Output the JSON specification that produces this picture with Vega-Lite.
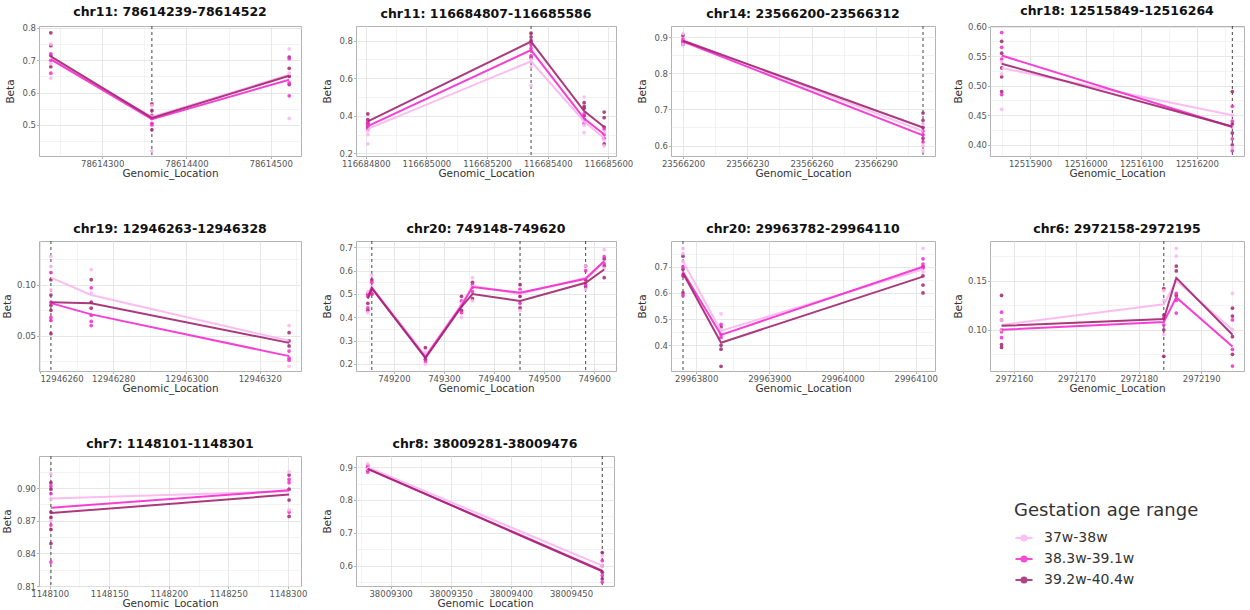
{
  "$schema": "https://vega.github.io/schema/vega-lite/v6.json",
  "padding": {"left": 2, "top": 4, "right": 0, "bottom": 0},
  "background": "white",
  "datasets": {
    "dmr": [
      {"panel": 1, "pos": 78614359},
      {"panel": 2, "pos": 116685345},
      {"panel": 3, "pos": 23566312},
      {"panel": 4, "pos": 12516264},
      {"panel": 5, "pos": 12946263},
      {"panel": 6, "pos": 749156},
      {"panel": 6, "pos": 749452},
      {"panel": 6, "pos": 749583},
      {"panel": 7, "pos": 29963782},
      {"panel": 8, "pos": 2972184},
      {"panel": 9, "pos": 1148101},
      {"panel": 10, "pos": 38009476}
    ],
    "means": [
      {"panel": 1, "pos": 78614239, "group": "37w-38w", "beta": 0.705},
      {"panel": 1, "pos": 78614359, "group": "37w-38w", "beta": 0.525},
      {"panel": 1, "pos": 78614522, "group": "37w-38w", "beta": 0.655},
      {"panel": 1, "pos": 78614239, "group": "38.3w-39.1w", "beta": 0.703},
      {"panel": 1, "pos": 78614359, "group": "38.3w-39.1w", "beta": 0.518},
      {"panel": 1, "pos": 78614522, "group": "38.3w-39.1w", "beta": 0.640},
      {"panel": 1, "pos": 78614239, "group": "39.2w-40.4w", "beta": 0.712},
      {"panel": 1, "pos": 78614359, "group": "39.2w-40.4w", "beta": 0.522},
      {"panel": 1, "pos": 78614522, "group": "39.2w-40.4w", "beta": 0.652},

      {"panel": 2, "pos": 116684807, "group": "37w-38w", "beta": 0.33},
      {"panel": 2, "pos": 116685345, "group": "37w-38w", "beta": 0.69},
      {"panel": 2, "pos": 116685520, "group": "37w-38w", "beta": 0.37},
      {"panel": 2, "pos": 116685586, "group": "37w-38w", "beta": 0.28},
      {"panel": 2, "pos": 116684807, "group": "38.3w-39.1w", "beta": 0.345},
      {"panel": 2, "pos": 116685345, "group": "38.3w-39.1w", "beta": 0.75},
      {"panel": 2, "pos": 116685520, "group": "38.3w-39.1w", "beta": 0.385},
      {"panel": 2, "pos": 116685586, "group": "38.3w-39.1w", "beta": 0.30},
      {"panel": 2, "pos": 116684807, "group": "39.2w-40.4w", "beta": 0.37},
      {"panel": 2, "pos": 116685345, "group": "39.2w-40.4w", "beta": 0.795},
      {"panel": 2, "pos": 116685520, "group": "39.2w-40.4w", "beta": 0.425},
      {"panel": 2, "pos": 116685586, "group": "39.2w-40.4w", "beta": 0.34},

      {"panel": 3, "pos": 23566200, "group": "37w-38w", "beta": 0.892},
      {"panel": 3, "pos": 23566312, "group": "37w-38w", "beta": 0.64},
      {"panel": 3, "pos": 23566200, "group": "38.3w-39.1w", "beta": 0.888},
      {"panel": 3, "pos": 23566312, "group": "38.3w-39.1w", "beta": 0.628},
      {"panel": 3, "pos": 23566200, "group": "39.2w-40.4w", "beta": 0.89},
      {"panel": 3, "pos": 23566312, "group": "39.2w-40.4w", "beta": 0.65},

      {"panel": 4, "pos": 12515849, "group": "37w-38w", "beta": 0.53},
      {"panel": 4, "pos": 12516264, "group": "37w-38w", "beta": 0.45},
      {"panel": 4, "pos": 12515849, "group": "38.3w-39.1w", "beta": 0.551},
      {"panel": 4, "pos": 12516264, "group": "38.3w-39.1w", "beta": 0.43},
      {"panel": 4, "pos": 12515849, "group": "39.2w-40.4w", "beta": 0.537},
      {"panel": 4, "pos": 12516264, "group": "39.2w-40.4w", "beta": 0.431},

      {"panel": 5, "pos": 12946263, "group": "37w-38w", "beta": 0.107},
      {"panel": 5, "pos": 12946274, "group": "37w-38w", "beta": 0.090},
      {"panel": 5, "pos": 12946328, "group": "37w-38w", "beta": 0.045},
      {"panel": 5, "pos": 12946263, "group": "38.3w-39.1w", "beta": 0.082},
      {"panel": 5, "pos": 12946274, "group": "38.3w-39.1w", "beta": 0.071},
      {"panel": 5, "pos": 12946328, "group": "38.3w-39.1w", "beta": 0.030},
      {"panel": 5, "pos": 12946263, "group": "39.2w-40.4w", "beta": 0.083},
      {"panel": 5, "pos": 12946274, "group": "39.2w-40.4w", "beta": 0.082},
      {"panel": 5, "pos": 12946328, "group": "39.2w-40.4w", "beta": 0.043},

      {"panel": 6, "pos": 749148, "group": "37w-38w", "beta": 0.50},
      {"panel": 6, "pos": 749156, "group": "37w-38w", "beta": 0.53},
      {"panel": 6, "pos": 749263, "group": "37w-38w", "beta": 0.235},
      {"panel": 6, "pos": 749335, "group": "37w-38w", "beta": 0.455},
      {"panel": 6, "pos": 749357, "group": "37w-38w", "beta": 0.535},
      {"panel": 6, "pos": 749452, "group": "37w-38w", "beta": 0.50},
      {"panel": 6, "pos": 749583, "group": "37w-38w", "beta": 0.57},
      {"panel": 6, "pos": 749620, "group": "37w-38w", "beta": 0.64},
      {"panel": 6, "pos": 749148, "group": "38.3w-39.1w", "beta": 0.49},
      {"panel": 6, "pos": 749156, "group": "38.3w-39.1w", "beta": 0.525},
      {"panel": 6, "pos": 749263, "group": "38.3w-39.1w", "beta": 0.23},
      {"panel": 6, "pos": 749335, "group": "38.3w-39.1w", "beta": 0.45},
      {"panel": 6, "pos": 749357, "group": "38.3w-39.1w", "beta": 0.53},
      {"panel": 6, "pos": 749452, "group": "38.3w-39.1w", "beta": 0.505},
      {"panel": 6, "pos": 749583, "group": "38.3w-39.1w", "beta": 0.565},
      {"panel": 6, "pos": 749620, "group": "38.3w-39.1w", "beta": 0.64},
      {"panel": 6, "pos": 749148, "group": "39.2w-40.4w", "beta": 0.48},
      {"panel": 6, "pos": 749156, "group": "39.2w-40.4w", "beta": 0.525},
      {"panel": 6, "pos": 749263, "group": "39.2w-40.4w", "beta": 0.225},
      {"panel": 6, "pos": 749335, "group": "39.2w-40.4w", "beta": 0.445},
      {"panel": 6, "pos": 749357, "group": "39.2w-40.4w", "beta": 0.50},
      {"panel": 6, "pos": 749452, "group": "39.2w-40.4w", "beta": 0.47},
      {"panel": 6, "pos": 749583, "group": "39.2w-40.4w", "beta": 0.548},
      {"panel": 6, "pos": 749620, "group": "39.2w-40.4w", "beta": 0.605},

      {"panel": 7, "pos": 29963782, "group": "37w-38w", "beta": 0.72},
      {"panel": 7, "pos": 29963834, "group": "37w-38w", "beta": 0.455},
      {"panel": 7, "pos": 29964110, "group": "37w-38w", "beta": 0.69},
      {"panel": 7, "pos": 29963782, "group": "38.3w-39.1w", "beta": 0.68},
      {"panel": 7, "pos": 29963834, "group": "38.3w-39.1w", "beta": 0.44},
      {"panel": 7, "pos": 29964110, "group": "38.3w-39.1w", "beta": 0.70},
      {"panel": 7, "pos": 29963782, "group": "39.2w-40.4w", "beta": 0.675},
      {"panel": 7, "pos": 29963834, "group": "39.2w-40.4w", "beta": 0.41},
      {"panel": 7, "pos": 29964110, "group": "39.2w-40.4w", "beta": 0.662},

      {"panel": 8, "pos": 2972158, "group": "37w-38w", "beta": 0.105},
      {"panel": 8, "pos": 2972184, "group": "37w-38w", "beta": 0.126},
      {"panel": 8, "pos": 2972186, "group": "37w-38w", "beta": 0.150},
      {"panel": 8, "pos": 2972195, "group": "37w-38w", "beta": 0.100},
      {"panel": 8, "pos": 2972158, "group": "38.3w-39.1w", "beta": 0.100},
      {"panel": 8, "pos": 2972184, "group": "38.3w-39.1w", "beta": 0.108},
      {"panel": 8, "pos": 2972186, "group": "38.3w-39.1w", "beta": 0.133},
      {"panel": 8, "pos": 2972195, "group": "38.3w-39.1w", "beta": 0.083},
      {"panel": 8, "pos": 2972158, "group": "39.2w-40.4w", "beta": 0.104},
      {"panel": 8, "pos": 2972184, "group": "39.2w-40.4w", "beta": 0.111},
      {"panel": 8, "pos": 2972186, "group": "39.2w-40.4w", "beta": 0.153},
      {"panel": 8, "pos": 2972195, "group": "39.2w-40.4w", "beta": 0.095},

      {"panel": 9, "pos": 1148101, "group": "37w-38w", "beta": 0.8905},
      {"panel": 9, "pos": 1148301, "group": "37w-38w", "beta": 0.897},
      {"panel": 9, "pos": 1148101, "group": "38.3w-39.1w", "beta": 0.882},
      {"panel": 9, "pos": 1148301, "group": "38.3w-39.1w", "beta": 0.898},
      {"panel": 9, "pos": 1148101, "group": "39.2w-40.4w", "beta": 0.877},
      {"panel": 9, "pos": 1148301, "group": "39.2w-40.4w", "beta": 0.894},

      {"panel": 10, "pos": 38009281, "group": "37w-38w", "beta": 0.90},
      {"panel": 10, "pos": 38009476, "group": "37w-38w", "beta": 0.60},
      {"panel": 10, "pos": 38009281, "group": "38.3w-39.1w", "beta": 0.895},
      {"panel": 10, "pos": 38009476, "group": "38.3w-39.1w", "beta": 0.585},
      {"panel": 10, "pos": 38009281, "group": "39.2w-40.4w", "beta": 0.895},
      {"panel": 10, "pos": 38009476, "group": "39.2w-40.4w", "beta": 0.583}
    ],
    "samples": [
      {"panel": 1, "pos": 78614239, "group": "39.2w-40.4w", "beta": 0.785},
      {"panel": 1, "pos": 78614239, "group": "39.2w-40.4w", "beta": 0.745},
      {"panel": 1, "pos": 78614239, "group": "39.2w-40.4w", "beta": 0.715},
      {"panel": 1, "pos": 78614239, "group": "39.2w-40.4w", "beta": 0.68},
      {"panel": 1, "pos": 78614239, "group": "38.3w-39.1w", "beta": 0.70},
      {"panel": 1, "pos": 78614239, "group": "38.3w-39.1w", "beta": 0.66},
      {"panel": 1, "pos": 78614239, "group": "38.3w-39.1w", "beta": 0.72},
      {"panel": 1, "pos": 78614239, "group": "37w-38w", "beta": 0.645},
      {"panel": 1, "pos": 78614239, "group": "37w-38w", "beta": 0.69},
      {"panel": 1, "pos": 78614239, "group": "37w-38w", "beta": 0.75},
      {"panel": 1, "pos": 78614359, "group": "39.2w-40.4w", "beta": 0.565},
      {"panel": 1, "pos": 78614359, "group": "39.2w-40.4w", "beta": 0.545},
      {"panel": 1, "pos": 78614359, "group": "39.2w-40.4w", "beta": 0.52},
      {"panel": 1, "pos": 78614359, "group": "39.2w-40.4w", "beta": 0.485},
      {"panel": 1, "pos": 78614359, "group": "38.3w-39.1w", "beta": 0.505},
      {"panel": 1, "pos": 78614359, "group": "38.3w-39.1w", "beta": 0.53},
      {"panel": 1, "pos": 78614359, "group": "38.3w-39.1w", "beta": 0.50},
      {"panel": 1, "pos": 78614359, "group": "37w-38w", "beta": 0.42},
      {"panel": 1, "pos": 78614359, "group": "37w-38w", "beta": 0.56},
      {"panel": 1, "pos": 78614359, "group": "37w-38w", "beta": 0.52},
      {"panel": 1, "pos": 78614522, "group": "39.2w-40.4w", "beta": 0.675},
      {"panel": 1, "pos": 78614522, "group": "39.2w-40.4w", "beta": 0.65},
      {"panel": 1, "pos": 78614522, "group": "39.2w-40.4w", "beta": 0.625},
      {"panel": 1, "pos": 78614522, "group": "39.2w-40.4w", "beta": 0.71},
      {"panel": 1, "pos": 78614522, "group": "38.3w-39.1w", "beta": 0.59},
      {"panel": 1, "pos": 78614522, "group": "38.3w-39.1w", "beta": 0.705},
      {"panel": 1, "pos": 78614522, "group": "38.3w-39.1w", "beta": 0.63},
      {"panel": 1, "pos": 78614522, "group": "37w-38w", "beta": 0.52},
      {"panel": 1, "pos": 78614522, "group": "37w-38w", "beta": 0.735},
      {"panel": 1, "pos": 78614522, "group": "37w-38w", "beta": 0.66},

      {"panel": 2, "pos": 116684807, "group": "39.2w-40.4w", "beta": 0.41},
      {"panel": 2, "pos": 116684807, "group": "39.2w-40.4w", "beta": 0.38},
      {"panel": 2, "pos": 116684807, "group": "39.2w-40.4w", "beta": 0.36},
      {"panel": 2, "pos": 116684807, "group": "39.2w-40.4w", "beta": 0.34},
      {"panel": 2, "pos": 116684807, "group": "38.3w-39.1w", "beta": 0.33},
      {"panel": 2, "pos": 116684807, "group": "38.3w-39.1w", "beta": 0.35},
      {"panel": 2, "pos": 116684807, "group": "38.3w-39.1w", "beta": 0.37},
      {"panel": 2, "pos": 116684807, "group": "37w-38w", "beta": 0.25},
      {"panel": 2, "pos": 116684807, "group": "37w-38w", "beta": 0.30},
      {"panel": 2, "pos": 116684807, "group": "37w-38w", "beta": 0.32},
      {"panel": 2, "pos": 116685345, "group": "39.2w-40.4w", "beta": 0.84},
      {"panel": 2, "pos": 116685345, "group": "39.2w-40.4w", "beta": 0.82},
      {"panel": 2, "pos": 116685345, "group": "39.2w-40.4w", "beta": 0.80},
      {"panel": 2, "pos": 116685345, "group": "39.2w-40.4w", "beta": 0.71},
      {"panel": 2, "pos": 116685345, "group": "38.3w-39.1w", "beta": 0.78},
      {"panel": 2, "pos": 116685345, "group": "38.3w-39.1w", "beta": 0.72},
      {"panel": 2, "pos": 116685345, "group": "38.3w-39.1w", "beta": 0.76},
      {"panel": 2, "pos": 116685345, "group": "37w-38w", "beta": 0.56},
      {"panel": 2, "pos": 116685345, "group": "37w-38w", "beta": 0.66},
      {"panel": 2, "pos": 116685345, "group": "37w-38w", "beta": 0.70},
      {"panel": 2, "pos": 116685520, "group": "39.2w-40.4w", "beta": 0.47},
      {"panel": 2, "pos": 116685520, "group": "39.2w-40.4w", "beta": 0.45},
      {"panel": 2, "pos": 116685520, "group": "39.2w-40.4w", "beta": 0.44},
      {"panel": 2, "pos": 116685520, "group": "39.2w-40.4w", "beta": 0.40},
      {"panel": 2, "pos": 116685520, "group": "38.3w-39.1w", "beta": 0.36},
      {"panel": 2, "pos": 116685520, "group": "38.3w-39.1w", "beta": 0.38},
      {"panel": 2, "pos": 116685520, "group": "38.3w-39.1w", "beta": 0.41},
      {"panel": 2, "pos": 116685520, "group": "37w-38w", "beta": 0.31},
      {"panel": 2, "pos": 116685520, "group": "37w-38w", "beta": 0.35},
      {"panel": 2, "pos": 116685520, "group": "37w-38w", "beta": 0.50},
      {"panel": 2, "pos": 116685586, "group": "39.2w-40.4w", "beta": 0.42},
      {"panel": 2, "pos": 116685586, "group": "39.2w-40.4w", "beta": 0.39},
      {"panel": 2, "pos": 116685586, "group": "39.2w-40.4w", "beta": 0.34},
      {"panel": 2, "pos": 116685586, "group": "39.2w-40.4w", "beta": 0.25},
      {"panel": 2, "pos": 116685586, "group": "38.3w-39.1w", "beta": 0.30},
      {"panel": 2, "pos": 116685586, "group": "38.3w-39.1w", "beta": 0.28},
      {"panel": 2, "pos": 116685586, "group": "38.3w-39.1w", "beta": 0.33},
      {"panel": 2, "pos": 116685586, "group": "37w-38w", "beta": 0.24},
      {"panel": 2, "pos": 116685586, "group": "37w-38w", "beta": 0.27},
      {"panel": 2, "pos": 116685586, "group": "37w-38w", "beta": 0.31},

      {"panel": 3, "pos": 23566200, "group": "39.2w-40.4w", "beta": 0.905},
      {"panel": 3, "pos": 23566200, "group": "39.2w-40.4w", "beta": 0.89},
      {"panel": 3, "pos": 23566200, "group": "39.2w-40.4w", "beta": 0.88},
      {"panel": 3, "pos": 23566200, "group": "38.3w-39.1w", "beta": 0.895},
      {"panel": 3, "pos": 23566200, "group": "38.3w-39.1w", "beta": 0.885},
      {"panel": 3, "pos": 23566200, "group": "37w-38w", "beta": 0.91},
      {"panel": 3, "pos": 23566200, "group": "37w-38w", "beta": 0.88},
      {"panel": 3, "pos": 23566312, "group": "39.2w-40.4w", "beta": 0.69},
      {"panel": 3, "pos": 23566312, "group": "39.2w-40.4w", "beta": 0.67},
      {"panel": 3, "pos": 23566312, "group": "39.2w-40.4w", "beta": 0.65},
      {"panel": 3, "pos": 23566312, "group": "39.2w-40.4w", "beta": 0.62},
      {"panel": 3, "pos": 23566312, "group": "38.3w-39.1w", "beta": 0.64},
      {"panel": 3, "pos": 23566312, "group": "38.3w-39.1w", "beta": 0.63},
      {"panel": 3, "pos": 23566312, "group": "38.3w-39.1w", "beta": 0.61},
      {"panel": 3, "pos": 23566312, "group": "37w-38w", "beta": 0.585},
      {"panel": 3, "pos": 23566312, "group": "37w-38w", "beta": 0.60},
      {"panel": 3, "pos": 23566312, "group": "37w-38w", "beta": 0.66},

      {"panel": 4, "pos": 12515849, "group": "39.2w-40.4w", "beta": 0.575},
      {"panel": 4, "pos": 12515849, "group": "39.2w-40.4w", "beta": 0.555},
      {"panel": 4, "pos": 12515849, "group": "39.2w-40.4w", "beta": 0.53},
      {"panel": 4, "pos": 12515849, "group": "39.2w-40.4w", "beta": 0.515},
      {"panel": 4, "pos": 12515849, "group": "39.2w-40.4w", "beta": 0.49},
      {"panel": 4, "pos": 12515849, "group": "38.3w-39.1w", "beta": 0.59},
      {"panel": 4, "pos": 12515849, "group": "38.3w-39.1w", "beta": 0.565},
      {"panel": 4, "pos": 12515849, "group": "38.3w-39.1w", "beta": 0.545},
      {"panel": 4, "pos": 12515849, "group": "38.3w-39.1w", "beta": 0.485},
      {"panel": 4, "pos": 12515849, "group": "37w-38w", "beta": 0.46},
      {"panel": 4, "pos": 12515849, "group": "37w-38w", "beta": 0.52},
      {"panel": 4, "pos": 12515849, "group": "37w-38w", "beta": 0.54},
      {"panel": 4, "pos": 12516264, "group": "39.2w-40.4w", "beta": 0.49},
      {"panel": 4, "pos": 12516264, "group": "39.2w-40.4w", "beta": 0.435},
      {"panel": 4, "pos": 12516264, "group": "39.2w-40.4w", "beta": 0.42},
      {"panel": 4, "pos": 12516264, "group": "39.2w-40.4w", "beta": 0.40},
      {"panel": 4, "pos": 12516264, "group": "38.3w-39.1w", "beta": 0.465},
      {"panel": 4, "pos": 12516264, "group": "38.3w-39.1w", "beta": 0.44},
      {"panel": 4, "pos": 12516264, "group": "38.3w-39.1w", "beta": 0.41},
      {"panel": 4, "pos": 12516264, "group": "38.3w-39.1w", "beta": 0.39},
      {"panel": 4, "pos": 12516264, "group": "37w-38w", "beta": 0.45},
      {"panel": 4, "pos": 12516264, "group": "37w-38w", "beta": 0.43},
      {"panel": 4, "pos": 12516264, "group": "37w-38w", "beta": 0.395},

      {"panel": 5, "pos": 12946263, "group": "39.2w-40.4w", "beta": 0.105},
      {"panel": 5, "pos": 12946263, "group": "39.2w-40.4w", "beta": 0.09},
      {"panel": 5, "pos": 12946263, "group": "39.2w-40.4w", "beta": 0.08},
      {"panel": 5, "pos": 12946263, "group": "39.2w-40.4w", "beta": 0.075},
      {"panel": 5, "pos": 12946263, "group": "39.2w-40.4w", "beta": 0.052},
      {"panel": 5, "pos": 12946263, "group": "38.3w-39.1w", "beta": 0.112},
      {"panel": 5, "pos": 12946263, "group": "38.3w-39.1w", "beta": 0.083},
      {"panel": 5, "pos": 12946263, "group": "38.3w-39.1w", "beta": 0.068},
      {"panel": 5, "pos": 12946263, "group": "38.3w-39.1w", "beta": 0.065},
      {"panel": 5, "pos": 12946263, "group": "37w-38w", "beta": 0.128},
      {"panel": 5, "pos": 12946263, "group": "37w-38w", "beta": 0.118},
      {"panel": 5, "pos": 12946263, "group": "37w-38w", "beta": 0.095},
      {"panel": 5, "pos": 12946274, "group": "39.2w-40.4w", "beta": 0.105},
      {"panel": 5, "pos": 12946274, "group": "39.2w-40.4w", "beta": 0.083},
      {"panel": 5, "pos": 12946274, "group": "39.2w-40.4w", "beta": 0.077},
      {"panel": 5, "pos": 12946274, "group": "38.3w-39.1w", "beta": 0.097},
      {"panel": 5, "pos": 12946274, "group": "38.3w-39.1w", "beta": 0.07},
      {"panel": 5, "pos": 12946274, "group": "38.3w-39.1w", "beta": 0.064},
      {"panel": 5, "pos": 12946274, "group": "38.3w-39.1w", "beta": 0.06},
      {"panel": 5, "pos": 12946274, "group": "37w-38w", "beta": 0.115},
      {"panel": 5, "pos": 12946274, "group": "37w-38w", "beta": 0.092},
      {"panel": 5, "pos": 12946328, "group": "39.2w-40.4w", "beta": 0.053},
      {"panel": 5, "pos": 12946328, "group": "39.2w-40.4w", "beta": 0.045},
      {"panel": 5, "pos": 12946328, "group": "39.2w-40.4w", "beta": 0.04},
      {"panel": 5, "pos": 12946328, "group": "38.3w-39.1w", "beta": 0.035},
      {"panel": 5, "pos": 12946328, "group": "38.3w-39.1w", "beta": 0.028},
      {"panel": 5, "pos": 12946328, "group": "38.3w-39.1w", "beta": 0.026},
      {"panel": 5, "pos": 12946328, "group": "37w-38w", "beta": 0.06},
      {"panel": 5, "pos": 12946328, "group": "37w-38w", "beta": 0.02},

      {"panel": 6, "pos": 749148, "group": "39.2w-40.4w", "beta": 0.50},
      {"panel": 6, "pos": 749148, "group": "39.2w-40.4w", "beta": 0.46},
      {"panel": 6, "pos": 749148, "group": "39.2w-40.4w", "beta": 0.43},
      {"panel": 6, "pos": 749148, "group": "38.3w-39.1w", "beta": 0.49},
      {"panel": 6, "pos": 749148, "group": "38.3w-39.1w", "beta": 0.44},
      {"panel": 6, "pos": 749148, "group": "37w-38w", "beta": 0.51},
      {"panel": 6, "pos": 749148, "group": "37w-38w", "beta": 0.42},
      {"panel": 6, "pos": 749156, "group": "39.2w-40.4w", "beta": 0.56},
      {"panel": 6, "pos": 749156, "group": "39.2w-40.4w", "beta": 0.52},
      {"panel": 6, "pos": 749156, "group": "39.2w-40.4w", "beta": 0.50},
      {"panel": 6, "pos": 749156, "group": "38.3w-39.1w", "beta": 0.55},
      {"panel": 6, "pos": 749156, "group": "38.3w-39.1w", "beta": 0.50},
      {"panel": 6, "pos": 749156, "group": "37w-38w", "beta": 0.58},
      {"panel": 6, "pos": 749156, "group": "37w-38w", "beta": 0.53},
      {"panel": 6, "pos": 749263, "group": "39.2w-40.4w", "beta": 0.27},
      {"panel": 6, "pos": 749263, "group": "39.2w-40.4w", "beta": 0.22},
      {"panel": 6, "pos": 749263, "group": "38.3w-39.1w", "beta": 0.21},
      {"panel": 6, "pos": 749263, "group": "38.3w-39.1w", "beta": 0.23},
      {"panel": 6, "pos": 749263, "group": "37w-38w", "beta": 0.20},
      {"panel": 6, "pos": 749263, "group": "37w-38w", "beta": 0.25},
      {"panel": 6, "pos": 749335, "group": "39.2w-40.4w", "beta": 0.49},
      {"panel": 6, "pos": 749335, "group": "39.2w-40.4w", "beta": 0.45},
      {"panel": 6, "pos": 749335, "group": "39.2w-40.4w", "beta": 0.43},
      {"panel": 6, "pos": 749335, "group": "38.3w-39.1w", "beta": 0.42},
      {"panel": 6, "pos": 749335, "group": "38.3w-39.1w", "beta": 0.47},
      {"panel": 6, "pos": 749335, "group": "37w-38w", "beta": 0.40},
      {"panel": 6, "pos": 749335, "group": "37w-38w", "beta": 0.46},
      {"panel": 6, "pos": 749357, "group": "39.2w-40.4w", "beta": 0.55},
      {"panel": 6, "pos": 749357, "group": "39.2w-40.4w", "beta": 0.53},
      {"panel": 6, "pos": 749357, "group": "39.2w-40.4w", "beta": 0.48},
      {"panel": 6, "pos": 749357, "group": "38.3w-39.1w", "beta": 0.54},
      {"panel": 6, "pos": 749357, "group": "38.3w-39.1w", "beta": 0.51},
      {"panel": 6, "pos": 749357, "group": "37w-38w", "beta": 0.57},
      {"panel": 6, "pos": 749357, "group": "37w-38w", "beta": 0.47},
      {"panel": 6, "pos": 749452, "group": "39.2w-40.4w", "beta": 0.54},
      {"panel": 6, "pos": 749452, "group": "39.2w-40.4w", "beta": 0.49},
      {"panel": 6, "pos": 749452, "group": "39.2w-40.4w", "beta": 0.44},
      {"panel": 6, "pos": 749452, "group": "38.3w-39.1w", "beta": 0.52},
      {"panel": 6, "pos": 749452, "group": "38.3w-39.1w", "beta": 0.46},
      {"panel": 6, "pos": 749452, "group": "37w-38w", "beta": 0.51},
      {"panel": 6, "pos": 749452, "group": "37w-38w", "beta": 0.43},
      {"panel": 6, "pos": 749583, "group": "39.2w-40.4w", "beta": 0.62},
      {"panel": 6, "pos": 749583, "group": "39.2w-40.4w", "beta": 0.56},
      {"panel": 6, "pos": 749583, "group": "39.2w-40.4w", "beta": 0.53},
      {"panel": 6, "pos": 749583, "group": "38.3w-39.1w", "beta": 0.60},
      {"panel": 6, "pos": 749583, "group": "38.3w-39.1w", "beta": 0.54},
      {"panel": 6, "pos": 749583, "group": "37w-38w", "beta": 0.62},
      {"panel": 6, "pos": 749583, "group": "37w-38w", "beta": 0.52},
      {"panel": 6, "pos": 749620, "group": "39.2w-40.4w", "beta": 0.65},
      {"panel": 6, "pos": 749620, "group": "39.2w-40.4w", "beta": 0.62},
      {"panel": 6, "pos": 749620, "group": "39.2w-40.4w", "beta": 0.57},
      {"panel": 6, "pos": 749620, "group": "38.3w-39.1w", "beta": 0.66},
      {"panel": 6, "pos": 749620, "group": "38.3w-39.1w", "beta": 0.63},
      {"panel": 6, "pos": 749620, "group": "37w-38w", "beta": 0.69},
      {"panel": 6, "pos": 749620, "group": "37w-38w", "beta": 0.61},

      {"panel": 7, "pos": 29963782, "group": "39.2w-40.4w", "beta": 0.74},
      {"panel": 7, "pos": 29963782, "group": "39.2w-40.4w", "beta": 0.69},
      {"panel": 7, "pos": 29963782, "group": "39.2w-40.4w", "beta": 0.665},
      {"panel": 7, "pos": 29963782, "group": "39.2w-40.4w", "beta": 0.60},
      {"panel": 7, "pos": 29963782, "group": "38.3w-39.1w", "beta": 0.70},
      {"panel": 7, "pos": 29963782, "group": "38.3w-39.1w", "beta": 0.67},
      {"panel": 7, "pos": 29963782, "group": "38.3w-39.1w", "beta": 0.59},
      {"panel": 7, "pos": 29963782, "group": "37w-38w", "beta": 0.77},
      {"panel": 7, "pos": 29963782, "group": "37w-38w", "beta": 0.72},
      {"panel": 7, "pos": 29963782, "group": "37w-38w", "beta": 0.75},
      {"panel": 7, "pos": 29963834, "group": "39.2w-40.4w", "beta": 0.47},
      {"panel": 7, "pos": 29963834, "group": "39.2w-40.4w", "beta": 0.40},
      {"panel": 7, "pos": 29963834, "group": "39.2w-40.4w", "beta": 0.385},
      {"panel": 7, "pos": 29963834, "group": "39.2w-40.4w", "beta": 0.32},
      {"panel": 7, "pos": 29963834, "group": "38.3w-39.1w", "beta": 0.48},
      {"panel": 7, "pos": 29963834, "group": "38.3w-39.1w", "beta": 0.44},
      {"panel": 7, "pos": 29963834, "group": "38.3w-39.1w", "beta": 0.43},
      {"panel": 7, "pos": 29963834, "group": "37w-38w", "beta": 0.52},
      {"panel": 7, "pos": 29963834, "group": "37w-38w", "beta": 0.46},
      {"panel": 7, "pos": 29964110, "group": "39.2w-40.4w", "beta": 0.70},
      {"panel": 7, "pos": 29964110, "group": "39.2w-40.4w", "beta": 0.665},
      {"panel": 7, "pos": 29964110, "group": "39.2w-40.4w", "beta": 0.63},
      {"panel": 7, "pos": 29964110, "group": "39.2w-40.4w", "beta": 0.60},
      {"panel": 7, "pos": 29964110, "group": "38.3w-39.1w", "beta": 0.73},
      {"panel": 7, "pos": 29964110, "group": "38.3w-39.1w", "beta": 0.71},
      {"panel": 7, "pos": 29964110, "group": "38.3w-39.1w", "beta": 0.695},
      {"panel": 7, "pos": 29964110, "group": "37w-38w", "beta": 0.77},
      {"panel": 7, "pos": 29964110, "group": "37w-38w", "beta": 0.68},

      {"panel": 8, "pos": 2972158, "group": "39.2w-40.4w", "beta": 0.135},
      {"panel": 8, "pos": 2972158, "group": "39.2w-40.4w", "beta": 0.11},
      {"panel": 8, "pos": 2972158, "group": "39.2w-40.4w", "beta": 0.10},
      {"panel": 8, "pos": 2972158, "group": "39.2w-40.4w", "beta": 0.085},
      {"panel": 8, "pos": 2972158, "group": "39.2w-40.4w", "beta": 0.082},
      {"panel": 8, "pos": 2972158, "group": "38.3w-39.1w", "beta": 0.118},
      {"panel": 8, "pos": 2972158, "group": "38.3w-39.1w", "beta": 0.098},
      {"panel": 8, "pos": 2972158, "group": "38.3w-39.1w", "beta": 0.092},
      {"panel": 8, "pos": 2972158, "group": "37w-38w", "beta": 0.11},
      {"panel": 8, "pos": 2972158, "group": "37w-38w", "beta": 0.10},
      {"panel": 8, "pos": 2972184, "group": "39.2w-40.4w", "beta": 0.142},
      {"panel": 8, "pos": 2972184, "group": "39.2w-40.4w", "beta": 0.115},
      {"panel": 8, "pos": 2972184, "group": "39.2w-40.4w", "beta": 0.10},
      {"panel": 8, "pos": 2972184, "group": "39.2w-40.4w", "beta": 0.073},
      {"panel": 8, "pos": 2972184, "group": "38.3w-39.1w", "beta": 0.112},
      {"panel": 8, "pos": 2972184, "group": "38.3w-39.1w", "beta": 0.105},
      {"panel": 8, "pos": 2972184, "group": "37w-38w", "beta": 0.13},
      {"panel": 8, "pos": 2972184, "group": "37w-38w", "beta": 0.095},
      {"panel": 8, "pos": 2972184, "group": "37w-38w", "beta": 0.14},
      {"panel": 8, "pos": 2972186, "group": "39.2w-40.4w", "beta": 0.165},
      {"panel": 8, "pos": 2972186, "group": "39.2w-40.4w", "beta": 0.16},
      {"panel": 8, "pos": 2972186, "group": "39.2w-40.4w", "beta": 0.135},
      {"panel": 8, "pos": 2972186, "group": "38.3w-39.1w", "beta": 0.137},
      {"panel": 8, "pos": 2972186, "group": "38.3w-39.1w", "beta": 0.13},
      {"panel": 8, "pos": 2972186, "group": "38.3w-39.1w", "beta": 0.117},
      {"panel": 8, "pos": 2972186, "group": "37w-38w", "beta": 0.183},
      {"panel": 8, "pos": 2972186, "group": "37w-38w", "beta": 0.175},
      {"panel": 8, "pos": 2972186, "group": "37w-38w", "beta": 0.15},
      {"panel": 8, "pos": 2972195, "group": "39.2w-40.4w", "beta": 0.122},
      {"panel": 8, "pos": 2972195, "group": "39.2w-40.4w", "beta": 0.114},
      {"panel": 8, "pos": 2972195, "group": "39.2w-40.4w", "beta": 0.093},
      {"panel": 8, "pos": 2972195, "group": "39.2w-40.4w", "beta": 0.075},
      {"panel": 8, "pos": 2972195, "group": "38.3w-39.1w", "beta": 0.08},
      {"panel": 8, "pos": 2972195, "group": "38.3w-39.1w", "beta": 0.063},
      {"panel": 8, "pos": 2972195, "group": "38.3w-39.1w", "beta": 0.11},
      {"panel": 8, "pos": 2972195, "group": "37w-38w", "beta": 0.137},
      {"panel": 8, "pos": 2972195, "group": "37w-38w", "beta": 0.10},

      {"panel": 9, "pos": 1148101, "group": "39.2w-40.4w", "beta": 0.905},
      {"panel": 9, "pos": 1148101, "group": "39.2w-40.4w", "beta": 0.899},
      {"panel": 9, "pos": 1148101, "group": "39.2w-40.4w", "beta": 0.878},
      {"panel": 9, "pos": 1148101, "group": "39.2w-40.4w", "beta": 0.873},
      {"panel": 9, "pos": 1148101, "group": "39.2w-40.4w", "beta": 0.862},
      {"panel": 9, "pos": 1148101, "group": "39.2w-40.4w", "beta": 0.849},
      {"panel": 9, "pos": 1148101, "group": "38.3w-39.1w", "beta": 0.902},
      {"panel": 9, "pos": 1148101, "group": "38.3w-39.1w", "beta": 0.895},
      {"panel": 9, "pos": 1148101, "group": "38.3w-39.1w", "beta": 0.866},
      {"panel": 9, "pos": 1148101, "group": "38.3w-39.1w", "beta": 0.832},
      {"panel": 9, "pos": 1148101, "group": "37w-38w", "beta": 0.913},
      {"panel": 9, "pos": 1148101, "group": "37w-38w", "beta": 0.89},
      {"panel": 9, "pos": 1148101, "group": "37w-38w", "beta": 0.87},
      {"panel": 9, "pos": 1148301, "group": "39.2w-40.4w", "beta": 0.912},
      {"panel": 9, "pos": 1148301, "group": "39.2w-40.4w", "beta": 0.899},
      {"panel": 9, "pos": 1148301, "group": "39.2w-40.4w", "beta": 0.889},
      {"panel": 9, "pos": 1148301, "group": "39.2w-40.4w", "beta": 0.874},
      {"panel": 9, "pos": 1148301, "group": "38.3w-39.1w", "beta": 0.908},
      {"panel": 9, "pos": 1148301, "group": "38.3w-39.1w", "beta": 0.905},
      {"panel": 9, "pos": 1148301, "group": "38.3w-39.1w", "beta": 0.878},
      {"panel": 9, "pos": 1148301, "group": "37w-38w", "beta": 0.915},
      {"panel": 9, "pos": 1148301, "group": "37w-38w", "beta": 0.88},

      {"panel": 10, "pos": 38009281, "group": "39.2w-40.4w", "beta": 0.90},
      {"panel": 10, "pos": 38009281, "group": "39.2w-40.4w", "beta": 0.89},
      {"panel": 10, "pos": 38009281, "group": "38.3w-39.1w", "beta": 0.905},
      {"panel": 10, "pos": 38009281, "group": "38.3w-39.1w", "beta": 0.885},
      {"panel": 10, "pos": 38009281, "group": "37w-38w", "beta": 0.91},
      {"panel": 10, "pos": 38009281, "group": "37w-38w", "beta": 0.895},
      {"panel": 10, "pos": 38009476, "group": "39.2w-40.4w", "beta": 0.64},
      {"panel": 10, "pos": 38009476, "group": "39.2w-40.4w", "beta": 0.60},
      {"panel": 10, "pos": 38009476, "group": "39.2w-40.4w", "beta": 0.58},
      {"panel": 10, "pos": 38009476, "group": "39.2w-40.4w", "beta": 0.56},
      {"panel": 10, "pos": 38009476, "group": "38.3w-39.1w", "beta": 0.615},
      {"panel": 10, "pos": 38009476, "group": "38.3w-39.1w", "beta": 0.57},
      {"panel": 10, "pos": 38009476, "group": "38.3w-39.1w", "beta": 0.55},
      {"panel": 10, "pos": 38009476, "group": "37w-38w", "beta": 0.63},
      {"panel": 10, "pos": 38009476, "group": "37w-38w", "beta": 0.60}
    ]
  },
  "config": {
    "font": "DejaVu Sans",
    "view": {"stroke": "#b3b3b3", "strokeWidth": 1},
    "range": {"category": ["#fbb6f0", "#f52acf", "#a2256f"]},
    "title": {"font": "DejaVu Sans", "fontSize": 12.5, "fontWeight": "bold", "color": "#111111", "anchor": "middle", "offset": 5},
    "axis": {
      "domain": false,
      "labelFont": "DejaVu Sans", "labelFontSize": 8.5, "labelColor": "#555555", "labelPadding": 1,
      "tickColor": "#b3b3b3",
      "gridColor": "#e4e4e4",
      "titleFont": "DejaVu Sans", "titleFontSize": 10.5, "titleFontWeight": "normal", "titleColor": "#333333",
      "labelOverlap": false
    },
    "axisX": {"titlePadding": 0},
    "axisY": {"titlePadding": 4, "minExtent": 20},
    "legend": {
      "orient": "none",
      "titleFont": "DejaVu Sans", "titleFontSize": 18, "titleFontWeight": "normal", "titleColor": "#333333", "titlePadding": 8, "titleLimit": 400,
      "labelFont": "DejaVu Sans", "labelFontSize": 14, "labelColor": "#333333", "labelOffset": 10, "labelLimit": 300,
      "rowPadding": 4
    }
  },
  "columns": 4,
  "bounds": "flush",
  "spacing": {"row": 85, "column": 55},
  "concat": [
    {
      "title": "chr11: 78614239-78614522",
      "width": 262, "height": 130,
      "encoding": {"x": {"field": "pos", "type": "quantitative", "title": "Genomic_Location",
        "scale": {"domain": [78614225, 78614536], "nice": false, "zero": false},
        "axis": {"values": [78614250, 78614300, 78614350, 78614400, 78614450, 78614500], "format": "d",
          "labelExpr": "datum.value % 100 === 0 ? datum.label : ''",
          "tickSize": {"condition": {"test": "datum.value % 100 === 0", "value": 2.5}, "value": 0},
          "gridWidth": {"condition": {"test": "datum.value % 100 === 0", "value": 0.9}, "value": 0.45}}}},
      "layer": [
        {"data": {"name": "dmr"}, "transform": [{"filter": "datum.panel === 1"}], "mark": {"type": "rule", "strokeDash": [3, 3], "color": "#444444", "strokeWidth": 1}, "encoding": {}},
        {"data": {"name": "samples"}, "transform": [{"filter": "datum.panel === 1"}], "mark": {"type": "circle", "size": 14, "opacity": 0.85},
          "encoding": {"y": {"field": "beta", "type": "quantitative", "title": "Beta", "scale": {"domain": [0.404, 0.806], "nice": false, "zero": false},
            "axis": {"values": [0.45, 0.5, 0.55, 0.6, 0.65, 0.7, 0.75, 0.8], "format": ".1f", "labelOverlap": false,
              "labelExpr": "round(datum.value*100) % 10 === 0 ? datum.label : ''",
              "tickSize": {"condition": {"test": "round(datum.value*100) % 10 === 0", "value": 2.5}, "value": 0},
              "gridWidth": {"condition": {"test": "round(datum.value*100) % 10 === 0", "value": 0.9}, "value": 0.45}}},
            "color": {"field": "group", "type": "nominal", "title": "Gestation age range",
              "legend": {"orient": "none", "legendX": 975, "legendY": 476,
                "symbolType": "M-1,0H1M-0.3,0A0.3,0.3 0 1,0 0.3,0A0.3,0.3 0 1,0 -0.3,0Z",
                "symbolSize": 290, "symbolStrokeWidth": 2,
                "encode": {"symbols": {"update": {"fill": {"scale": "color", "field": "value"}, "stroke": {"scale": "color", "field": "value"}}}}}}}},
        {"data": {"name": "means"}, "transform": [{"filter": "datum.panel === 1"}], "mark": {"type": "line", "strokeWidth": 2, "opacity": 0.9},
          "encoding": {"y": {"field": "beta", "type": "quantitative", "title": "Beta", "scale": {"domain": [0.404, 0.806], "nice": false, "zero": false},
            "axis": {"values": [0.45, 0.5, 0.55, 0.6, 0.65, 0.7, 0.75, 0.8], "format": ".1f", "labelOverlap": false,
              "labelExpr": "round(datum.value*100) % 10 === 0 ? datum.label : ''",
              "tickSize": {"condition": {"test": "round(datum.value*100) % 10 === 0", "value": 2.5}, "value": 0},
              "gridWidth": {"condition": {"test": "round(datum.value*100) % 10 === 0", "value": 0.9}, "value": 0.45}}},
            "color": {"field": "group", "type": "nominal", "title": "Gestation age range",
              "legend": {"orient": "none", "legendX": 975, "legendY": 476,
                "symbolType": "M-1,0H1M-0.3,0A0.3,0.3 0 1,0 0.3,0A0.3,0.3 0 1,0 -0.3,0Z",
                "symbolSize": 290, "symbolStrokeWidth": 2,
                "encode": {"symbols": {"update": {"fill": {"scale": "color", "field": "value"}, "stroke": {"scale": "color", "field": "value"}}}}}}}}
      ]
    },
    {
      "title": "chr11: 116684807-116685586",
      "width": 260, "height": 130,
      "encoding": {"x": {"field": "pos", "type": "quantitative", "title": "Genomic_Location",
        "scale": {"domain": [116684768, 116685625], "nice": false, "zero": false},
        "axis": {"values": [116684800, 116684900, 116685000, 116685100, 116685200, 116685300, 116685400, 116685500, 116685600], "format": "d",
          "labelExpr": "datum.value % 200 === 0 ? datum.label : ''",
          "tickSize": {"condition": {"test": "datum.value % 200 === 0", "value": 2.5}, "value": 0},
          "gridWidth": {"condition": {"test": "datum.value % 200 === 0", "value": 0.9}, "value": 0.45}}}},
      "layer": [
        {"data": {"name": "dmr"}, "transform": [{"filter": "datum.panel === 2"}], "mark": {"type": "rule", "strokeDash": [3, 3], "color": "#444444", "strokeWidth": 1}, "encoding": {}},
        {"data": {"name": "samples"}, "transform": [{"filter": "datum.panel === 2"}], "mark": {"type": "circle", "size": 14, "opacity": 0.85},
          "encoding": {"y": {"field": "beta", "type": "quantitative", "title": "Beta", "scale": {"domain": [0.186, 0.878], "nice": false, "zero": false},
            "axis": {"values": [0.2, 0.3, 0.4, 0.5, 0.6, 0.7, 0.8], "format": ".1f", "labelOverlap": false,
              "labelExpr": "round(datum.value*10) % 2 === 0 ? datum.label : ''",
              "tickSize": {"condition": {"test": "round(datum.value*10) % 2 === 0", "value": 2.5}, "value": 0},
              "gridWidth": {"condition": {"test": "round(datum.value*10) % 2 === 0", "value": 0.9}, "value": 0.45}}},
            "color": {"field": "group", "type": "nominal"}}},
        {"data": {"name": "means"}, "transform": [{"filter": "datum.panel === 2"}], "mark": {"type": "line", "strokeWidth": 2, "opacity": 0.9},
          "encoding": {"y": {"field": "beta", "type": "quantitative", "title": "Beta", "scale": {"domain": [0.186, 0.878], "nice": false, "zero": false},
            "axis": {"values": [0.2, 0.3, 0.4, 0.5, 0.6, 0.7, 0.8], "format": ".1f", "labelOverlap": false,
              "labelExpr": "round(datum.value*10) % 2 === 0 ? datum.label : ''",
              "tickSize": {"condition": {"test": "round(datum.value*10) % 2 === 0", "value": 2.5}, "value": 0},
              "gridWidth": {"condition": {"test": "round(datum.value*10) % 2 === 0", "value": 0.9}, "value": 0.45}}},
            "color": {"field": "group", "type": "nominal"}}}
      ]
    },
    {
      "title": "chr14: 23566200-23566312",
      "width": 264, "height": 130,
      "encoding": {"x": {"field": "pos", "type": "quantitative", "title": "Genomic_Location",
        "scale": {"domain": [23566194.4, 23566317.6], "nice": false, "zero": false},
        "axis": {"values": [23566200, 23566215, 23566230, 23566245, 23566260, 23566275, 23566290, 23566305], "format": "d",
          "labelExpr": "datum.value % 30 === 0 ? datum.label : ''",
          "tickSize": {"condition": {"test": "datum.value % 30 === 0", "value": 2.5}, "value": 0},
          "gridWidth": {"condition": {"test": "datum.value % 30 === 0", "value": 0.9}, "value": 0.45}}}},
      "layer": [
        {"data": {"name": "dmr"}, "transform": [{"filter": "datum.panel === 3"}], "mark": {"type": "rule", "strokeDash": [3, 3], "color": "#444444", "strokeWidth": 1}, "encoding": {}},
        {"data": {"name": "samples"}, "transform": [{"filter": "datum.panel === 3"}], "mark": {"type": "circle", "size": 14, "opacity": 0.85},
          "encoding": {"y": {"field": "beta", "type": "quantitative", "title": "Beta", "scale": {"domain": [0.571, 0.931], "nice": false, "zero": false},
            "axis": {"values": [0.6, 0.65, 0.7, 0.75, 0.8, 0.85, 0.9], "format": ".1f", "labelOverlap": false,
              "labelExpr": "round(datum.value*100) % 10 === 0 ? datum.label : ''",
              "tickSize": {"condition": {"test": "round(datum.value*100) % 10 === 0", "value": 2.5}, "value": 0},
              "gridWidth": {"condition": {"test": "round(datum.value*100) % 10 === 0", "value": 0.9}, "value": 0.45}}},
            "color": {"field": "group", "type": "nominal"}}},
        {"data": {"name": "means"}, "transform": [{"filter": "datum.panel === 3"}], "mark": {"type": "line", "strokeWidth": 2, "opacity": 0.9},
          "encoding": {"y": {"field": "beta", "type": "quantitative", "title": "Beta", "scale": {"domain": [0.571, 0.931], "nice": false, "zero": false},
            "axis": {"values": [0.6, 0.65, 0.7, 0.75, 0.8, 0.85, 0.9], "format": ".1f", "labelOverlap": false,
              "labelExpr": "round(datum.value*100) % 10 === 0 ? datum.label : ''",
              "tickSize": {"condition": {"test": "round(datum.value*100) % 10 === 0", "value": 2.5}, "value": 0},
              "gridWidth": {"condition": {"test": "round(datum.value*100) % 10 === 0", "value": 0.9}, "value": 0.45}}},
            "color": {"field": "group", "type": "nominal"}}}
      ]
    },
    {
      "title": "chr18: 12515849-12516264",
      "width": 254, "height": 130,
      "encoding": {"x": {"field": "pos", "type": "quantitative", "title": "Genomic_Location",
        "scale": {"domain": [12515828, 12516285], "nice": false, "zero": false},
        "axis": {"values": [12515850, 12515900, 12515950, 12516000, 12516050, 12516100, 12516150, 12516200, 12516250], "format": "d",
          "labelExpr": "datum.value % 100 === 0 ? datum.label : ''",
          "tickSize": {"condition": {"test": "datum.value % 100 === 0", "value": 2.5}, "value": 0},
          "gridWidth": {"condition": {"test": "datum.value % 100 === 0", "value": 0.9}, "value": 0.45}}}},
      "layer": [
        {"data": {"name": "dmr"}, "transform": [{"filter": "datum.panel === 4"}], "mark": {"type": "rule", "strokeDash": [3, 3], "color": "#444444", "strokeWidth": 1}, "encoding": {}},
        {"data": {"name": "samples"}, "transform": [{"filter": "datum.panel === 4"}], "mark": {"type": "circle", "size": 14, "opacity": 0.85},
          "encoding": {"y": {"field": "beta", "type": "quantitative", "title": "Beta", "scale": {"domain": [0.381, 0.601], "nice": false, "zero": false},
            "axis": {"values": [0.4, 0.425, 0.45, 0.475, 0.5, 0.525, 0.55, 0.575, 0.6], "format": ".2f", "labelOverlap": false,
              "labelExpr": "round(datum.value*1000) % 50 === 0 ? datum.label : ''",
              "tickSize": {"condition": {"test": "round(datum.value*1000) % 50 === 0", "value": 2.5}, "value": 0},
              "gridWidth": {"condition": {"test": "round(datum.value*1000) % 50 === 0", "value": 0.9}, "value": 0.45}}},
            "color": {"field": "group", "type": "nominal"}}},
        {"data": {"name": "means"}, "transform": [{"filter": "datum.panel === 4"}], "mark": {"type": "line", "strokeWidth": 2, "opacity": 0.9},
          "encoding": {"y": {"field": "beta", "type": "quantitative", "title": "Beta", "scale": {"domain": [0.381, 0.601], "nice": false, "zero": false},
            "axis": {"values": [0.4, 0.425, 0.45, 0.475, 0.5, 0.525, 0.55, 0.575, 0.6], "format": ".2f", "labelOverlap": false,
              "labelExpr": "round(datum.value*1000) % 50 === 0 ? datum.label : ''",
              "tickSize": {"condition": {"test": "round(datum.value*1000) % 50 === 0", "value": 2.5}, "value": 0},
              "gridWidth": {"condition": {"test": "round(datum.value*1000) % 50 === 0", "value": 0.9}, "value": 0.45}}},
            "color": {"field": "group", "type": "nominal"}}}
      ]
    },
    {
      "title": "chr19: 12946263-12946328",
      "width": 262, "height": 130,
      "encoding": {"x": {"field": "pos", "type": "quantitative", "title": "Genomic_Location",
        "scale": {"domain": [12946259.75, 12946331.25], "nice": false, "zero": false},
        "axis": {"values": [12946260, 12946270, 12946280, 12946290, 12946300, 12946310, 12946320, 12946330], "format": "d",
          "labelExpr": "datum.value % 20 === 0 ? datum.label : ''",
          "tickSize": {"condition": {"test": "datum.value % 20 === 0", "value": 2.5}, "value": 0},
          "gridWidth": {"condition": {"test": "datum.value % 20 === 0", "value": 0.9}, "value": 0.45}}}},
      "layer": [
        {"data": {"name": "dmr"}, "transform": [{"filter": "datum.panel === 5"}], "mark": {"type": "rule", "strokeDash": [3, 3], "color": "#444444", "strokeWidth": 1}, "encoding": {}},
        {"data": {"name": "samples"}, "transform": [{"filter": "datum.panel === 5"}], "mark": {"type": "circle", "size": 14, "opacity": 0.85},
          "encoding": {"y": {"field": "beta", "type": "quantitative", "title": "Beta", "scale": {"domain": [0.0154, 0.143], "nice": false, "zero": false},
            "axis": {"values": [0.025, 0.05, 0.075, 0.1, 0.125], "format": ".2f", "labelOverlap": false,
              "labelExpr": "round(datum.value*1000) % 50 === 0 ? datum.label : ''",
              "tickSize": {"condition": {"test": "round(datum.value*1000) % 50 === 0", "value": 2.5}, "value": 0},
              "gridWidth": {"condition": {"test": "round(datum.value*1000) % 50 === 0", "value": 0.9}, "value": 0.45}}},
            "color": {"field": "group", "type": "nominal"}}},
        {"data": {"name": "means"}, "transform": [{"filter": "datum.panel === 5"}], "mark": {"type": "line", "strokeWidth": 2, "opacity": 0.9},
          "encoding": {"y": {"field": "beta", "type": "quantitative", "title": "Beta", "scale": {"domain": [0.0154, 0.143], "nice": false, "zero": false},
            "axis": {"values": [0.025, 0.05, 0.075, 0.1, 0.125], "format": ".2f", "labelOverlap": false,
              "labelExpr": "round(datum.value*1000) % 50 === 0 ? datum.label : ''",
              "tickSize": {"condition": {"test": "round(datum.value*1000) % 50 === 0", "value": 2.5}, "value": 0},
              "gridWidth": {"condition": {"test": "round(datum.value*1000) % 50 === 0", "value": 0.9}, "value": 0.45}}},
            "color": {"field": "group", "type": "nominal"}}}
      ]
    },
    {
      "title": "chr20: 749148-749620",
      "width": 260, "height": 130,
      "encoding": {"x": {"field": "pos", "type": "quantitative", "title": "Genomic_Location",
        "scale": {"domain": [749124.4, 749643.6], "nice": false, "zero": false},
        "axis": {"values": [749150, 749200, 749250, 749300, 749350, 749400, 749450, 749500, 749550, 749600], "format": "d",
          "labelExpr": "datum.value % 100 === 0 ? datum.label : ''",
          "tickSize": {"condition": {"test": "datum.value % 100 === 0", "value": 2.5}, "value": 0},
          "gridWidth": {"condition": {"test": "datum.value % 100 === 0", "value": 0.9}, "value": 0.45}}}},
      "layer": [
        {"data": {"name": "dmr"}, "transform": [{"filter": "datum.panel === 6"}], "mark": {"type": "rule", "strokeDash": [3, 3], "color": "#444444", "strokeWidth": 1}, "encoding": {}},
        {"data": {"name": "samples"}, "transform": [{"filter": "datum.panel === 6"}], "mark": {"type": "circle", "size": 14, "opacity": 0.85},
          "encoding": {"y": {"field": "beta", "type": "quantitative", "title": "Beta", "scale": {"domain": [0.17, 0.727], "nice": false, "zero": false},
            "axis": {"values": [0.2, 0.25, 0.3, 0.35, 0.4, 0.45, 0.5, 0.55, 0.6, 0.65, 0.7], "format": ".1f", "labelOverlap": false,
              "labelExpr": "round(datum.value*100) % 10 === 0 ? datum.label : ''",
              "tickSize": {"condition": {"test": "round(datum.value*100) % 10 === 0", "value": 2.5}, "value": 0},
              "gridWidth": {"condition": {"test": "round(datum.value*100) % 10 === 0", "value": 0.9}, "value": 0.45}}},
            "color": {"field": "group", "type": "nominal"}}},
        {"data": {"name": "means"}, "transform": [{"filter": "datum.panel === 6"}], "mark": {"type": "line", "strokeWidth": 2, "opacity": 0.9},
          "encoding": {"y": {"field": "beta", "type": "quantitative", "title": "Beta", "scale": {"domain": [0.17, 0.727], "nice": false, "zero": false},
            "axis": {"values": [0.2, 0.25, 0.3, 0.35, 0.4, 0.45, 0.5, 0.55, 0.6, 0.65, 0.7], "format": ".1f", "labelOverlap": false,
              "labelExpr": "round(datum.value*100) % 10 === 0 ? datum.label : ''",
              "tickSize": {"condition": {"test": "round(datum.value*100) % 10 === 0", "value": 2.5}, "value": 0},
              "gridWidth": {"condition": {"test": "round(datum.value*100) % 10 === 0", "value": 0.9}, "value": 0.45}}},
            "color": {"field": "group", "type": "nominal"}}}
      ]
    },
    {
      "title": "chr20: 29963782-29964110",
      "width": 264, "height": 130,
      "encoding": {"x": {"field": "pos", "type": "quantitative", "title": "Genomic_Location",
        "scale": {"domain": [29963765.6, 29964126.4], "nice": false, "zero": false},
        "axis": {"values": [29963800, 29963850, 29963900, 29963950, 29964000, 29964050, 29964100], "format": "d",
          "labelExpr": "datum.value % 100 === 0 ? datum.label : ''",
          "tickSize": {"condition": {"test": "datum.value % 100 === 0", "value": 2.5}, "value": 0},
          "gridWidth": {"condition": {"test": "datum.value % 100 === 0", "value": 0.9}, "value": 0.45}}}},
      "layer": [
        {"data": {"name": "dmr"}, "transform": [{"filter": "datum.panel === 7"}], "mark": {"type": "rule", "strokeDash": [3, 3], "color": "#444444", "strokeWidth": 1}, "encoding": {}},
        {"data": {"name": "samples"}, "transform": [{"filter": "datum.panel === 7"}], "mark": {"type": "circle", "size": 14, "opacity": 0.85},
          "encoding": {"y": {"field": "beta", "type": "quantitative", "title": "Beta", "scale": {"domain": [0.302, 0.798], "nice": false, "zero": false},
            "axis": {"values": [0.35, 0.4, 0.45, 0.5, 0.55, 0.6, 0.65, 0.7, 0.75], "format": ".1f", "labelOverlap": false,
              "labelExpr": "round(datum.value*100) % 10 === 0 ? datum.label : ''",
              "tickSize": {"condition": {"test": "round(datum.value*100) % 10 === 0", "value": 2.5}, "value": 0},
              "gridWidth": {"condition": {"test": "round(datum.value*100) % 10 === 0", "value": 0.9}, "value": 0.45}}},
            "color": {"field": "group", "type": "nominal"}}},
        {"data": {"name": "means"}, "transform": [{"filter": "datum.panel === 7"}], "mark": {"type": "line", "strokeWidth": 2, "opacity": 0.9},
          "encoding": {"y": {"field": "beta", "type": "quantitative", "title": "Beta", "scale": {"domain": [0.302, 0.798], "nice": false, "zero": false},
            "axis": {"values": [0.35, 0.4, 0.45, 0.5, 0.55, 0.6, 0.65, 0.7, 0.75], "format": ".1f", "labelOverlap": false,
              "labelExpr": "round(datum.value*100) % 10 === 0 ? datum.label : ''",
              "tickSize": {"condition": {"test": "round(datum.value*100) % 10 === 0", "value": 2.5}, "value": 0},
              "gridWidth": {"condition": {"test": "round(datum.value*100) % 10 === 0", "value": 0.9}, "value": 0.45}}},
            "color": {"field": "group", "type": "nominal"}}}
      ]
    },
    {
      "title": "chr6: 2972158-2972195",
      "width": 254, "height": 130,
      "encoding": {"x": {"field": "pos", "type": "quantitative", "title": "Genomic_Location",
        "scale": {"domain": [2972156.15, 2972196.85], "nice": false, "zero": false},
        "axis": {"values": [2972160, 2972165, 2972170, 2972175, 2972180, 2972185, 2972190, 2972195], "format": "d",
          "labelExpr": "datum.value % 10 === 0 ? datum.label : ''",
          "tickSize": {"condition": {"test": "datum.value % 10 === 0", "value": 2.5}, "value": 0},
          "gridWidth": {"condition": {"test": "datum.value % 10 === 0", "value": 0.9}, "value": 0.45}}}},
      "layer": [
        {"data": {"name": "dmr"}, "transform": [{"filter": "datum.panel === 8"}], "mark": {"type": "rule", "strokeDash": [3, 3], "color": "#444444", "strokeWidth": 1}, "encoding": {}},
        {"data": {"name": "samples"}, "transform": [{"filter": "datum.panel === 8"}], "mark": {"type": "circle", "size": 14, "opacity": 0.85},
          "encoding": {"y": {"field": "beta", "type": "quantitative", "title": "Beta", "scale": {"domain": [0.058, 0.1905], "nice": false, "zero": false},
            "axis": {"values": [0.075, 0.1, 0.125, 0.15, 0.175], "format": ".2f", "labelOverlap": false,
              "labelExpr": "round(datum.value*1000) % 50 === 0 ? datum.label : ''",
              "tickSize": {"condition": {"test": "round(datum.value*1000) % 50 === 0", "value": 2.5}, "value": 0},
              "gridWidth": {"condition": {"test": "round(datum.value*1000) % 50 === 0", "value": 0.9}, "value": 0.45}}},
            "color": {"field": "group", "type": "nominal"}}},
        {"data": {"name": "means"}, "transform": [{"filter": "datum.panel === 8"}], "mark": {"type": "line", "strokeWidth": 2, "opacity": 0.9},
          "encoding": {"y": {"field": "beta", "type": "quantitative", "title": "Beta", "scale": {"domain": [0.058, 0.1905], "nice": false, "zero": false},
            "axis": {"values": [0.075, 0.1, 0.125, 0.15, 0.175], "format": ".2f", "labelOverlap": false,
              "labelExpr": "round(datum.value*1000) % 50 === 0 ? datum.label : ''",
              "tickSize": {"condition": {"test": "round(datum.value*1000) % 50 === 0", "value": 2.5}, "value": 0},
              "gridWidth": {"condition": {"test": "round(datum.value*1000) % 50 === 0", "value": 0.9}, "value": 0.45}}},
            "color": {"field": "group", "type": "nominal"}}}
      ]
    },
    {
      "title": "chr7: 1148101-1148301",
      "width": 262, "height": 130,
      "encoding": {"x": {"field": "pos", "type": "quantitative", "title": "Genomic_Location",
        "scale": {"domain": [1148091, 1148311], "nice": false, "zero": false},
        "axis": {"values": [1148100, 1148125, 1148150, 1148175, 1148200, 1148225, 1148250, 1148275, 1148300], "format": "d",
          "labelExpr": "datum.value % 50 === 0 ? datum.label : ''",
          "tickSize": {"condition": {"test": "datum.value % 50 === 0", "value": 2.5}, "value": 0},
          "gridWidth": {"condition": {"test": "datum.value % 50 === 0", "value": 0.9}, "value": 0.45}}}},
      "layer": [
        {"data": {"name": "dmr"}, "transform": [{"filter": "datum.panel === 9"}], "mark": {"type": "rule", "strokeDash": [3, 3], "color": "#444444", "strokeWidth": 1}, "encoding": {}},
        {"data": {"name": "samples"}, "transform": [{"filter": "datum.panel === 9"}], "mark": {"type": "circle", "size": 14, "opacity": 0.85},
          "encoding": {"y": {"field": "beta", "type": "quantitative", "title": "Beta", "scale": {"domain": [0.81, 0.9295], "nice": false, "zero": false},
            "axis": {"values": [0.81, 0.825, 0.84, 0.855, 0.87, 0.885, 0.9, 0.915], "format": ".2f", "labelOverlap": false,
              "labelExpr": "round(datum.value*1000) % 30 === 0 ? datum.label : ''",
              "tickSize": {"condition": {"test": "round(datum.value*1000) % 30 === 0", "value": 2.5}, "value": 0},
              "gridWidth": {"condition": {"test": "round(datum.value*1000) % 30 === 0", "value": 0.9}, "value": 0.45}}},
            "color": {"field": "group", "type": "nominal"}}},
        {"data": {"name": "means"}, "transform": [{"filter": "datum.panel === 9"}], "mark": {"type": "line", "strokeWidth": 2, "opacity": 0.9},
          "encoding": {"y": {"field": "beta", "type": "quantitative", "title": "Beta", "scale": {"domain": [0.81, 0.9295], "nice": false, "zero": false},
            "axis": {"values": [0.81, 0.825, 0.84, 0.855, 0.87, 0.885, 0.9, 0.915], "format": ".2f", "labelOverlap": false,
              "labelExpr": "round(datum.value*1000) % 30 === 0 ? datum.label : ''",
              "tickSize": {"condition": {"test": "round(datum.value*1000) % 30 === 0", "value": 2.5}, "value": 0},
              "gridWidth": {"condition": {"test": "round(datum.value*1000) % 30 === 0", "value": 0.9}, "value": 0.45}}},
            "color": {"field": "group", "type": "nominal"}}}
      ]
    },
    {
      "title": "chr8: 38009281-38009476",
      "width": 258, "height": 130,
      "encoding": {"x": {"field": "pos", "type": "quantitative", "title": "Genomic_Location",
        "scale": {"domain": [38009271.25, 38009485.75], "nice": false, "zero": false},
        "axis": {"values": [38009275, 38009300, 38009325, 38009350, 38009375, 38009400, 38009425, 38009450, 38009475], "format": "d",
          "labelExpr": "datum.value % 50 === 0 ? datum.label : ''",
          "tickSize": {"condition": {"test": "datum.value % 50 === 0", "value": 2.5}, "value": 0},
          "gridWidth": {"condition": {"test": "datum.value % 50 === 0", "value": 0.9}, "value": 0.45}}}},
      "layer": [
        {"data": {"name": "dmr"}, "transform": [{"filter": "datum.panel === 10"}], "mark": {"type": "rule", "strokeDash": [3, 3], "color": "#444444", "strokeWidth": 1}, "encoding": {}},
        {"data": {"name": "samples"}, "transform": [{"filter": "datum.panel === 10"}], "mark": {"type": "circle", "size": 14, "opacity": 0.85},
          "encoding": {"y": {"field": "beta", "type": "quantitative", "title": "Beta", "scale": {"domain": [0.538, 0.934], "nice": false, "zero": false},
            "axis": {"values": [0.55, 0.6, 0.65, 0.7, 0.75, 0.8, 0.85, 0.9], "format": ".1f", "labelOverlap": false,
              "labelExpr": "round(datum.value*100) % 10 === 0 ? datum.label : ''",
              "tickSize": {"condition": {"test": "round(datum.value*100) % 10 === 0", "value": 2.5}, "value": 0},
              "gridWidth": {"condition": {"test": "round(datum.value*100) % 10 === 0", "value": 0.9}, "value": 0.45}}},
            "color": {"field": "group", "type": "nominal"}}},
        {"data": {"name": "means"}, "transform": [{"filter": "datum.panel === 10"}], "mark": {"type": "line", "strokeWidth": 2, "opacity": 0.9},
          "encoding": {"y": {"field": "beta", "type": "quantitative", "title": "Beta", "scale": {"domain": [0.538, 0.934], "nice": false, "zero": false},
            "axis": {"values": [0.55, 0.6, 0.65, 0.7, 0.75, 0.8, 0.85, 0.9], "format": ".1f", "labelOverlap": false,
              "labelExpr": "round(datum.value*100) % 10 === 0 ? datum.label : ''",
              "tickSize": {"condition": {"test": "round(datum.value*100) % 10 === 0", "value": 2.5}, "value": 0},
              "gridWidth": {"condition": {"test": "round(datum.value*100) % 10 === 0", "value": 0.9}, "value": 0.45}}},
            "color": {"field": "group", "type": "nominal"}}}
      ]
    }
  ]
}
